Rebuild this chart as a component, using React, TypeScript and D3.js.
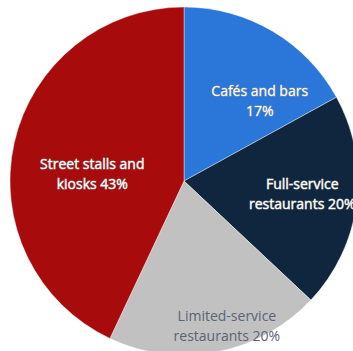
import React from "react";
import * as d3 from "d3";

const categories = ["Cafés and bars", "Full-service restaurants", "Limited-service restaurants", "Street stalls and kiosks"];
const values = [17, 20, 20, 43];
const labelLines = [
  ["Cafés and bars", "17%"],
  ["Full-service", "restaurants 20%"],
  ["Limited-service", "restaurants 20%"],
  ["Street stalls and", "kiosks 43%"],
];
const colors = ["#2b77d9", "#10263e", "#c1c1c1", "#a70b0c"];
const labelAngleDeg = [43.5, 96.3, 163.5, 274.4];
const labelRadius = [110, 119, 151, 92];

export default function App() {
  const W = 353, H = 351;
  const cx = 184, cy = 181, r = 174;
  const pie = d3.pie<number>().sort(null).value((d) => d)(values);
  const arc = d3.arc<d3.PieArcDatum<number>>().innerRadius(0).outerRadius(r);
  return (
    <svg width={W} height={H} style={{ position: "absolute", left: 0, top: 0 }}>
      <g transform={`translate(${cx},${cy})`}>
        {pie.map((p, i) => (
          <path key={categories[i]} d={arc(p) || ""} fill={colors[i]} stroke="#ffffff" strokeWidth={0.4} />
        ))}
        {pie.map((p, i) => {
          const a = (labelAngleDeg[i] * Math.PI) / 180;
          const x = labelRadius[i] * Math.sin(a);
          const y = -labelRadius[i] * Math.cos(a);
          const dark = i !== 2;
          return (
            <text
              key={"l" + i}
              x={x}
              y={y}
              textAnchor="middle"
              fontFamily="'Open Sans', sans-serif"
              fontSize={14}
              fill={dark ? "#ffffff" : "#5a6475"}
              stroke={dark ? "#9a9a9a" : "none"}
              strokeWidth={dark ? 0.9 : 0}
              style={{ paintOrder: "stroke" }}
            >
              {labelLines[i].map((t, j) => (
                <tspan key={j} x={x} dy={j === 0 ? -10 + 5 : 20}>
                  {t}
                </tspan>
              ))}
            </text>
          );
        })}
      </g>
    </svg>
  );
}
